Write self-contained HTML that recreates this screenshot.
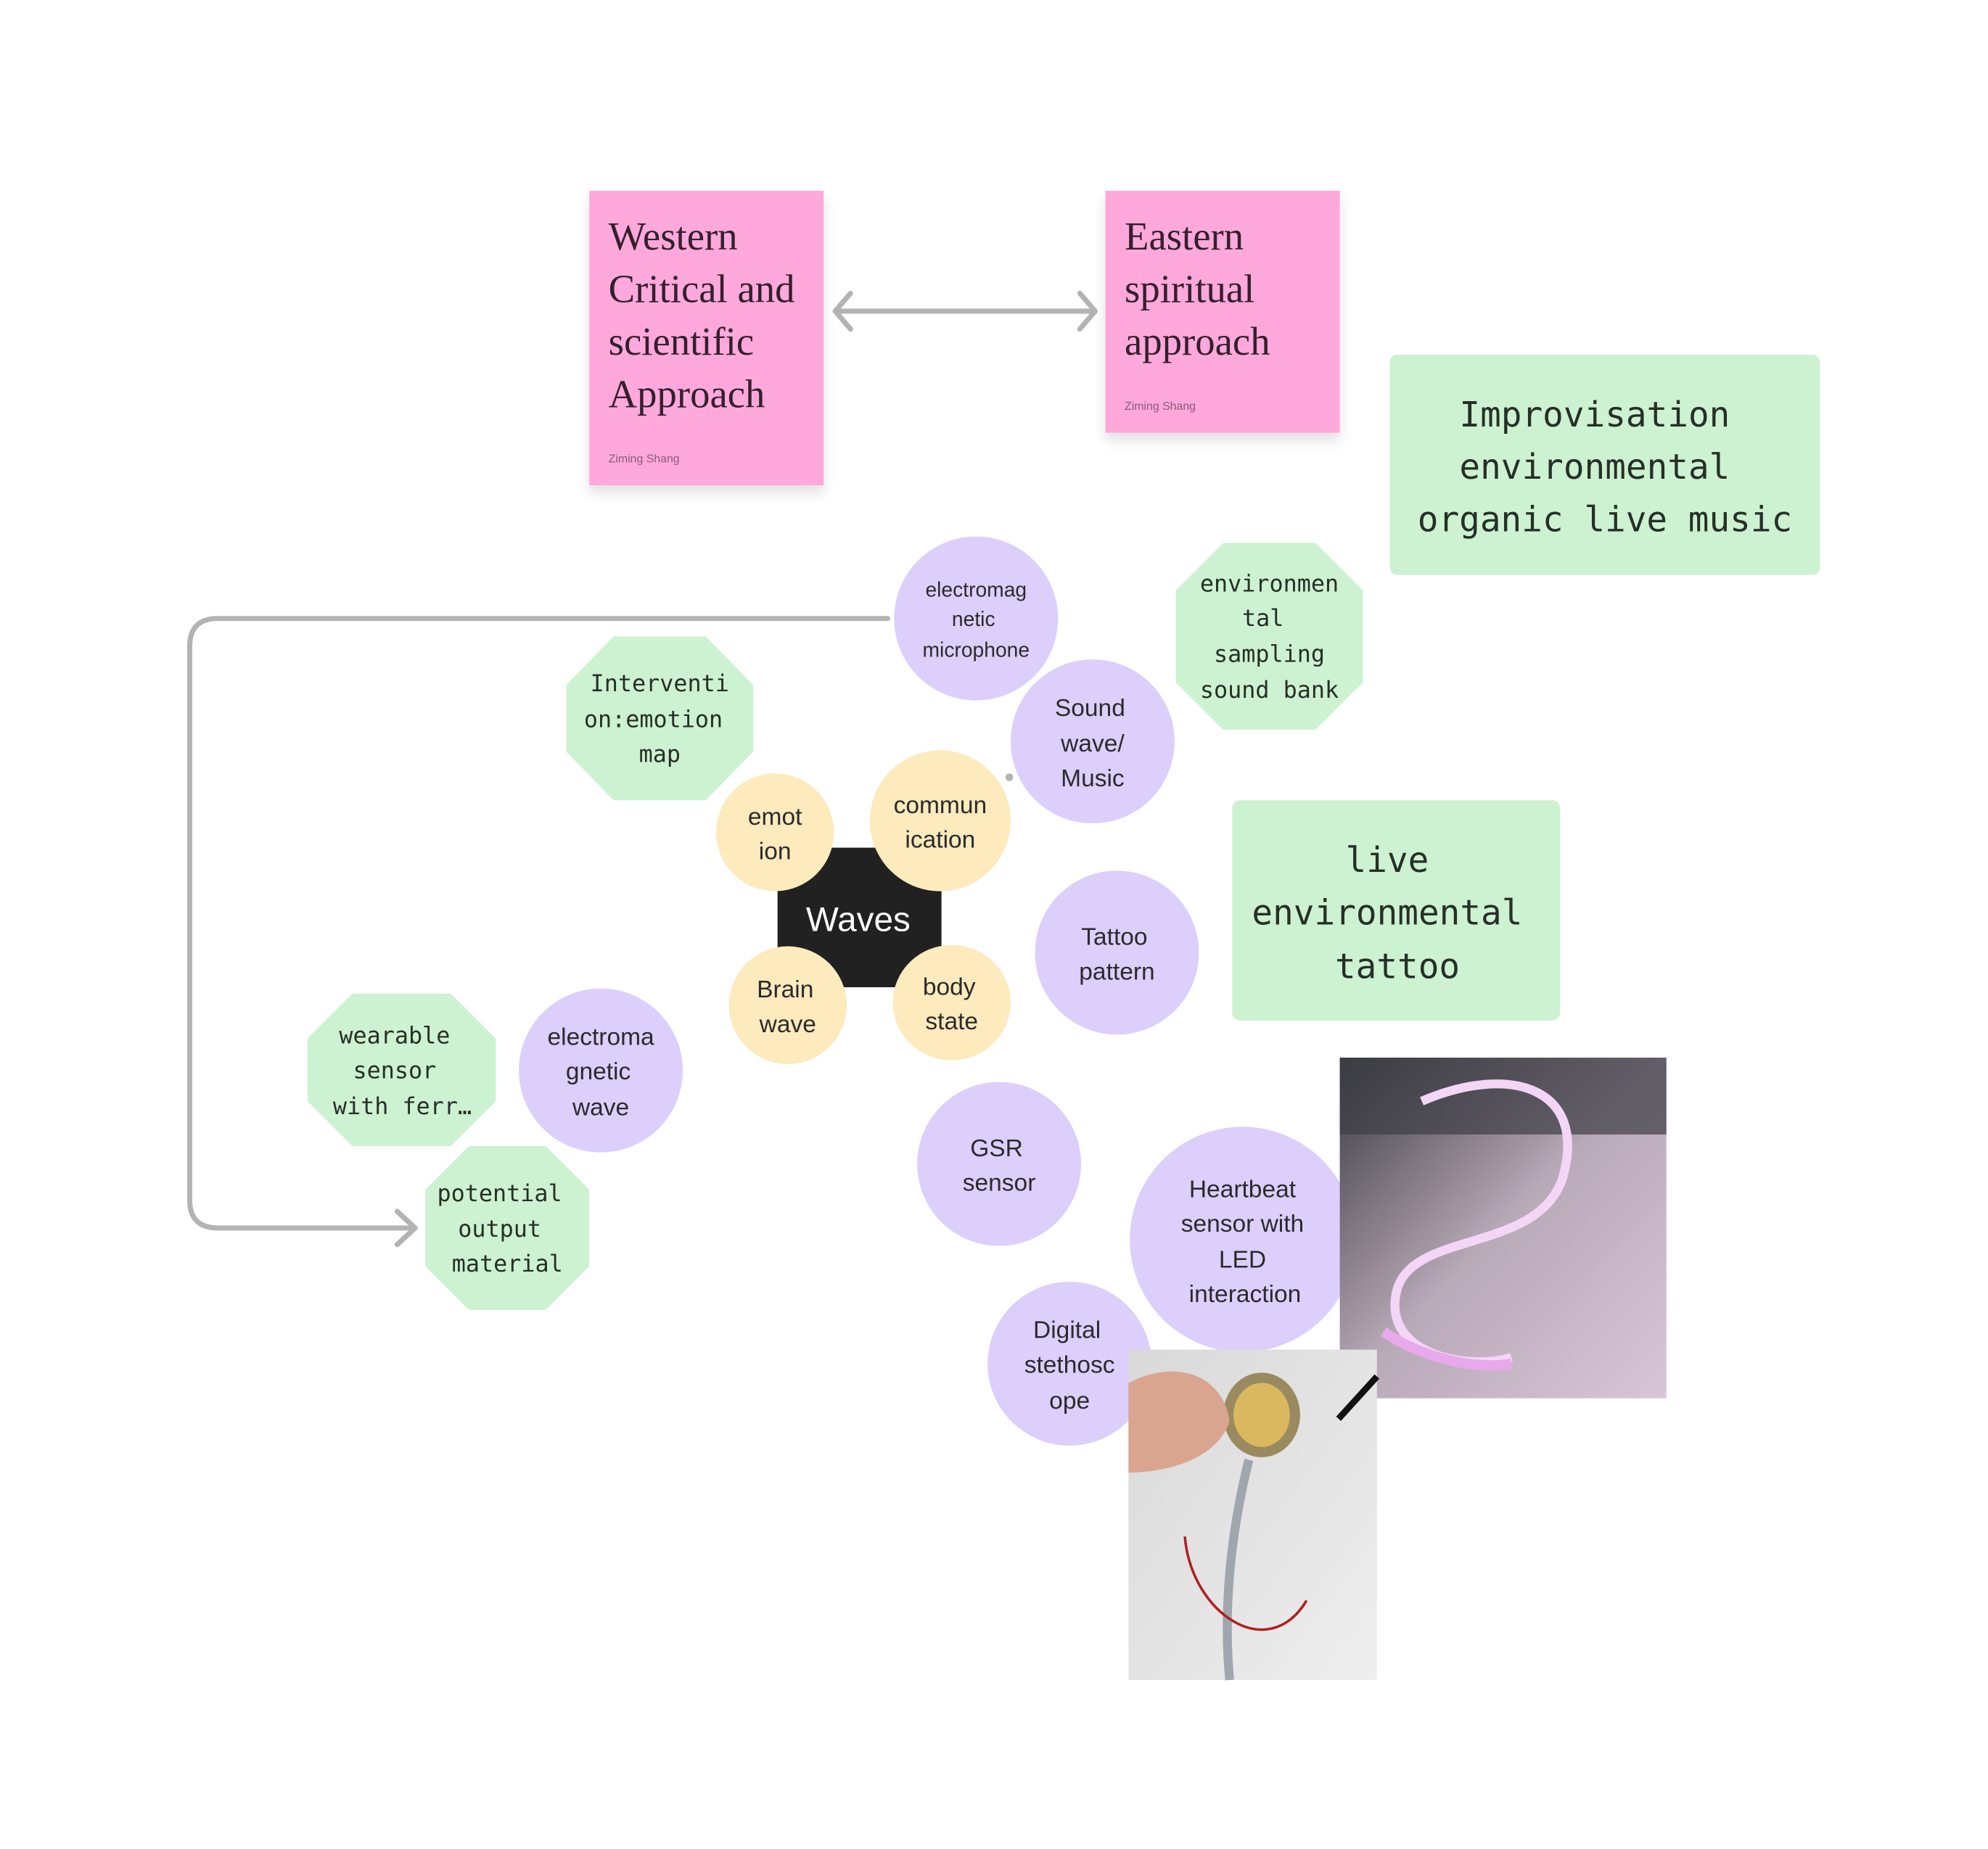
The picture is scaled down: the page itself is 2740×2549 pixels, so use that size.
<!DOCTYPE html>
<html><head><meta charset="utf-8"><style>
html,body{margin:0;padding:0;background:#fff;}
svg{display:block;}
.sans{font-family:"Liberation Sans",sans-serif;fill:#2b2b2b;}
.mono{font-family:"DejaVu Sans Mono","Liberation Mono",monospace;fill:#263026;font-weight:normal;}
.serif{font-family:"Liberation Serif",serif;fill:#33202c;}
</style></head><body>
<svg width="2740" height="2549" viewBox="0 0 1552 1444" xmlns="http://www.w3.org/2000/svg">
<defs>
<filter id="sh" x="-20%" y="-20%" width="140%" height="150%"><feDropShadow dx="0" dy="6" stdDeviation="5" flood-color="#000" flood-opacity="0.12"/></filter>
<linearGradient id="led" x1="0" y1="0" x2="1" y2="1"><stop offset="0" stop-color="#3a3a40"/><stop offset="0.5" stop-color="#b9aab8"/><stop offset="1" stop-color="#d8c6d8"/></linearGradient>
<linearGradient id="st" x1="0" y1="0" x2="1" y2="1"><stop offset="0" stop-color="#d9d9d9"/><stop offset="1" stop-color="#eeeeee"/></linearGradient>
</defs>
<rect width="1552" height="1444" fill="#fff"/>

<rect x="460" y="149" width="183" height="230" fill="#FFA8DB" filter="url(#sh)"/>
<g class="serif" font-size="31">
<text x="475" y="195">Western</text><text x="475" y="236">Critical and</text><text x="475" y="277">scientific</text><text x="475" y="318">Approach</text></g>
<text x="475" y="361" class="sans" font-size="9" style="fill:#8a5a78">Ziming Shang</text>
<rect x="863" y="149" width="183" height="189" fill="#FFA8DB" filter="url(#sh)"/>
<g class="serif" font-size="31">
<text x="878" y="195">Eastern</text><text x="878" y="236">spiritual</text><text x="878" y="277">approach</text></g>
<text x="878" y="320" class="sans" font-size="9" style="fill:#8a5a78">Ziming Shang</text>

<g stroke="#b3b3b3" stroke-width="4" fill="none" stroke-linecap="round" stroke-linejoin="round">
<line x1="652" y1="243" x2="855" y2="243"/>
<polyline points="664,229 652,243 664,257"/>
<polyline points="843,229 855,243 843,257"/>
<path d="M693,483 H170 Q148,483 148,505 V937 Q148,959 170,959 H324"/>
<polyline points="310,946 324,959 310,972"/>
</g>
<circle cx="788" cy="607" r="3" fill="#b3b3b3"/>

<rect x="1085" y="277" width="336" height="172" rx="6" fill="#CDF2D2"/>
<g class="mono" font-size="27" text-anchor="middle">
<text x="1245" y="333">Improvisation</text><text x="1245" y="374">environmental</text><text x="1253" y="415">organic live music</text></g>
<rect x="962" y="625" width="256" height="172" rx="6" fill="#CDF2D2"/>
<g class="mono" font-size="27" text-anchor="middle">
<text x="1083" y="681">live</text><text x="1083" y="722">environmental</text><text x="1091" y="764">tattoo</text></g>

<g fill="#CDF2D2">
<polygon points="479,497 551,497 588,535 588,587 551,625 479,625 442,587 442,535"/>
<polygon points="955,424 1027,424 1064,461 1064,533 1027,570 955,570 918,533 918,461"/>
<polygon points="275,776 352,776 387,811 387,860 352,895 275,895 240,860 240,811"/>
<polygon points="366,895 426,895 460,929 460,989 426,1023 366,1023 332,989 332,929"/>
</g>
<g class="mono" font-size="18" text-anchor="middle">
<text x="515" y="540">Interventi</text><text x="510" y="568">on:emotion</text><text x="515" y="595">map</text>
<text x="991" y="462">environmen</text><text x="986" y="489">tal</text><text x="991" y="517">sampling</text><text x="991" y="545">sound bank</text>
<text x="308" y="815">wearable</text><text x="308" y="842">sensor</text><text x="314" y="870">with ferr…</text>
<text x="390" y="938">potential</text><text x="390" y="966">output</text><text x="396" y="993">material</text>
</g>

<g fill="#DCCFFC">
<circle cx="762" cy="483" r="64"/>
<circle cx="853" cy="579" r="64"/>
<circle cx="872" cy="744" r="64"/>
<circle cx="469" cy="836" r="64"/>
<circle cx="780" cy="909" r="64"/>
<circle cx="970" cy="968" r="88"/>
<circle cx="835" cy="1065" r="64"/>
</g>
<g class="sans" text-anchor="middle">
<g font-size="16"><text x="762" y="466">electromag</text><text x="760" y="489">netic</text><text x="762" y="513">microphone</text></g>
<g font-size="19">
<text x="851" y="559">Sound</text><text x="853" y="587">wave/</text><text x="853" y="614">Music</text>
<text x="870" y="738">Tattoo</text><text x="872" y="765">pattern</text>
<text x="469" y="816">electroma</text><text x="467" y="843">gnetic</text><text x="469" y="871">wave</text>
<text x="778" y="903">GSR</text><text x="780" y="930">sensor</text>
<text x="970" y="935">Heartbeat</text><text x="970" y="962">sensor with</text><text x="970" y="990">LED</text><text x="972" y="1017">interaction</text>
<text x="833" y="1045">Digital</text><text x="835" y="1072">stethosc</text><text x="835" y="1100">ope</text>
</g></g>

<rect x="607" y="662" width="128" height="109" fill="#212121"/>
<g fill="#FDEABD">
<ellipse cx="605" cy="650" rx="46" ry="46"/>
<ellipse cx="734" cy="641" rx="55" ry="55"/>
<ellipse cx="615" cy="785" rx="46" ry="46"/>
<ellipse cx="743" cy="783" rx="46" ry="45"/>
</g>
<text x="670" y="727" class="sans" font-size="27" text-anchor="middle" style="fill:#fff">Waves</text>
<g class="sans" font-size="19" text-anchor="middle">
<text x="605" y="644">emot</text><text x="605" y="671">ion</text>
<text x="734" y="635">commun</text><text x="734" y="662">ication</text>
<text x="613" y="779">Brain</text><text x="615" y="806">wave</text>
<text x="741" y="777">body</text><text x="743" y="804">state</text>
</g>

<rect x="1046" y="826" width="255" height="266" fill="url(#led)"/>
<rect x="1046" y="826" width="255" height="60" fill="#3d3d44" opacity="0.7"/>
<path d="M1110,860 C1180,830 1240,850 1220,920 C1200,980 1100,960 1090,1010 C1080,1060 1150,1070 1180,1060" stroke="#f3d6f5" stroke-width="7" fill="none"/>
<path d="M1080,1040 C1110,1060 1150,1070 1180,1065" stroke="#e7a9ec" stroke-width="8" fill="none"/>
<rect x="881" y="1054" width="194" height="258" fill="url(#st)"/>
<ellipse cx="985" cy="1105" rx="30" ry="33" fill="#9a8a60"/>
<ellipse cx="985" cy="1105" rx="22" ry="25" fill="#d9b860"/>
<path d="M881,1080 C920,1060 955,1075 960,1110 C950,1140 910,1150 881,1150 Z" fill="#d9a58f"/>
<path d="M975,1140 C960,1200 955,1260 960,1312" stroke="#a0a6ae" stroke-width="7" fill="none"/>
<path d="M925,1200 C930,1260 990,1300 1020,1250" stroke="#b02020" stroke-width="2" fill="none"/>
<line x1="1045" y1="1108" x2="1075" y2="1075" stroke="#111" stroke-width="5"/>
</svg>
</body></html>
